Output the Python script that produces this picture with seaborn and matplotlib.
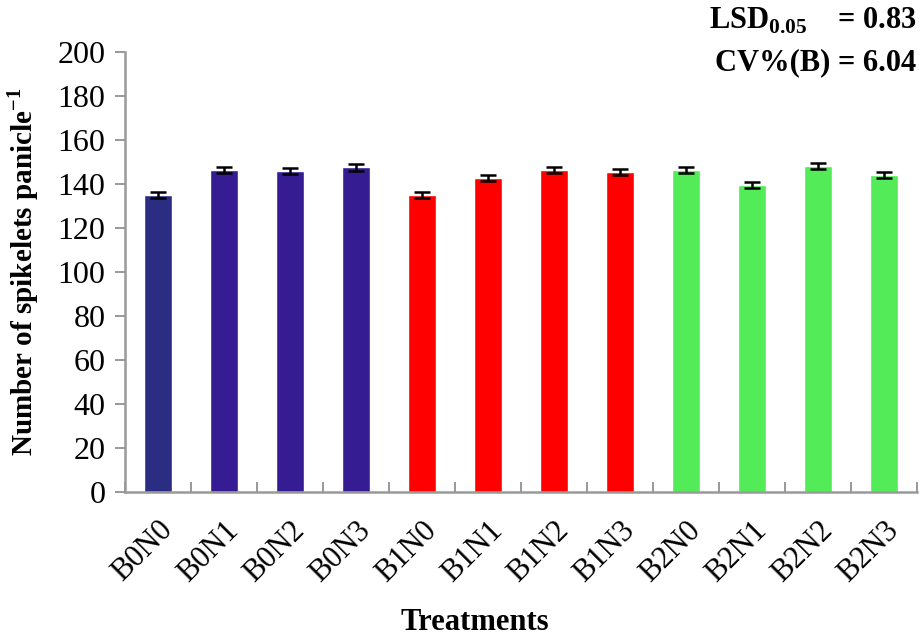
import matplotlib
matplotlib.use("Agg")
import matplotlib.pyplot as plt
import seaborn as sns
import numpy as np
import pandas as pd

treatments = ["B0N0", "B0N1", "B0N2", "B0N3", "B1N0", "B1N1",
              "B1N2", "B1N3", "B2N0", "B2N1", "B2N2", "B2N3"]
spikelets = [135.0, 146.4, 145.9, 147.7, 135.0, 142.7,
             146.4, 145.5, 146.4, 139.5, 148.2, 144.1]
errors = [1.4, 1.5, 1.4, 1.5, 1.4, 1.4, 1.5, 1.4, 1.4, 1.4, 1.5, 1.4]
bar_colors = ["#2b2d82", "#361c93", "#361c93", "#361c93",
              "#ff0000", "#ff0000", "#ff0000", "#ff0000",
              "#53eb57", "#53eb57", "#53eb57", "#53eb57"]
y_ticks = [0, 20, 40, 60, 80, 100, 120, 140, 160, 180, 200]

sns.set_theme(style="white")
plt.rcParams['font.family'] = ['Liberation Serif', 'DejaVu Serif']
plt.rcParams['mathtext.fontset'] = 'custom'
plt.rcParams['mathtext.rm'] = 'Liberation Serif'
plt.rcParams['mathtext.bf'] = 'Liberation Serif:bold'
for k in ['text.color', 'axes.labelcolor', 'xtick.labelcolor', 'ytick.labelcolor']:
    plt.rcParams[k] = 'black'

df = pd.DataFrame({"Treatment": treatments, "Value": spikelets})

fig = plt.figure(figsize=(9.19, 6.38), dpi=100)
ax = fig.add_axes([0.136, 0.229, 0.862, 0.689])

sns.barplot(data=df, x="Treatment", y="Value", hue="Treatment",
            palette=bar_colors, legend=False, width=0.42, ax=ax,
            saturation=1)
ax.errorbar(np.arange(len(treatments)), spikelets, yerr=errors,
            fmt="none", ecolor="black", elinewidth=1.8, capsize=6,
            capthick=1.8)

ax.set_ylim(0, 200)
ax.set_xlim(-0.5, len(treatments) - 0.5)
ax.set_yticks(y_ticks)
ax.set_yticklabels([str(v) for v in y_ticks], fontsize=23)
ax.tick_params(axis="y", direction="out", length=7, width=1.4,
               color="#999999", left=True, pad=7)

ax.set_xticks(np.arange(len(treatments)))
ax.set_xticklabels(treatments, rotation=45, ha="right",
                   rotation_mode="anchor", fontsize=22)
ax.tick_params(axis="x", which="major", length=0, pad=17)
ax.set_xticks(np.arange(len(treatments) + 1) - 0.5, minor=True)
ax.tick_params(axis="x", which="minor", direction="in", length=7,
               width=1.4, color="#999999", bottom=True)

for s in ["top", "right"]:
    ax.spines[s].set_visible(False)
for s in ["left", "bottom"]:
    ax.spines[s].set_color("#999999")
    ax.spines[s].set_linewidth(1.8)

ax.set_ylabel("Number of spikelets panicle$^{\\mathbf{-1}}$",
              fontsize=21, fontweight="bold", labelpad=12)
ax.set_xlabel("Treatments", fontsize=22, fontweight="bold")
ax.xaxis.set_label_coords(0.442, -0.265)

fig.text(0.997, 0.99, "LSD$_{\\mathbf{0.05}}$    = 0.83",
         ha="right", va="top", fontsize=22, fontweight="bold")
fig.text(0.997, 0.925, "CV%(B) = 6.04",
         ha="right", va="top", fontsize=22, fontweight="bold")

fig.savefig("out.png", dpi=100)
